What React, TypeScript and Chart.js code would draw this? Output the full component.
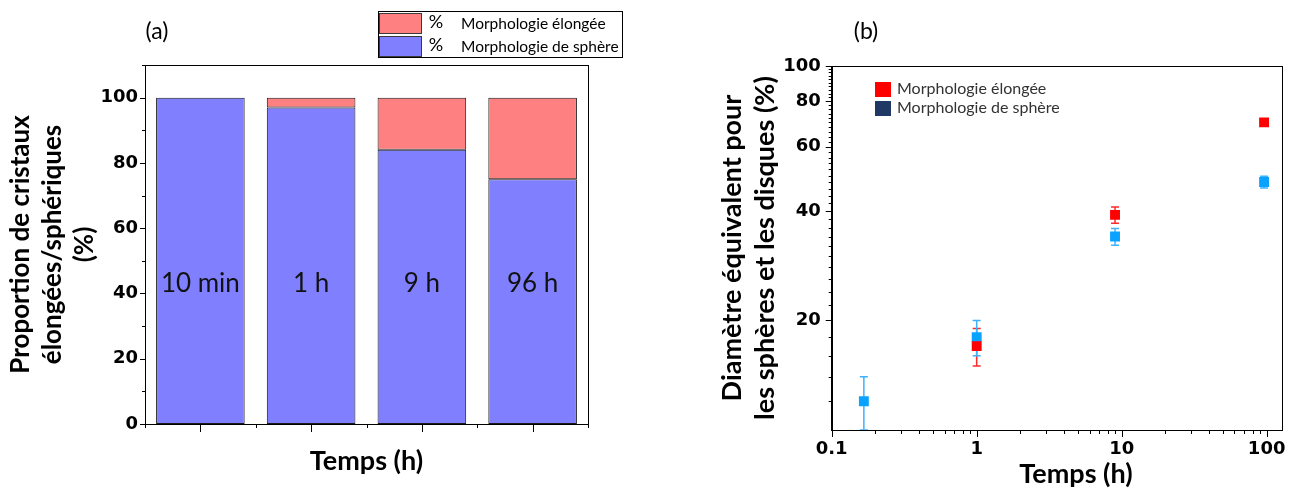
import React, { useEffect, useRef } from 'react';
import { Chart, registerables } from 'chart.js';

Chart.register(...registerables);

// ---------- Data (a) ----------
const categories = ['10 min', '1 h', '9 h', '96 h'];
const spherePct = [100, 97, 84, 75];
const elongPct = [0, 3, 16, 25];
const pctTickLabels = [0, 20, 40, 60, 80, 100];

// ---------- Data (b) ----------
const sphereTimes = [10 / 60, 1, 9, 96];
const sphereDiam = [12, 18, 34, 48];
const sphereErr = [2, 2, 1.8, 1.8];
const elongTimes = [1, 9, 96];
const elongDiam = [17, 39, 70];
const elongErr = [2, 2, 1];
const timeTickLabels = [0.1, 1, 10, 100];
const diamTickLabels = [20, 40, 60, 80, 100];

const TICK_FONT = { family: '"DejaVu Sans", "Liberation Sans", sans-serif', size: 18, weight: 'bold' as const };
const TITLE_FAMILY = 'Lato, "Open Sans", sans-serif';

const LEFT_W = 650;
const RIGHT_W = 646;
const H = 491;

function drawTick(ctx: CanvasRenderingContext2D, x1: number, y1: number, x2: number, y2: number) {
  ctx.beginPath();
  ctx.moveTo(x1, y1);
  ctx.lineTo(x2, y2);
  ctx.stroke();
}

const leftDecor = {
  id: 'leftDecor',
  afterDraw(chart: any) {
    const { ctx, chartArea: a, scales } = chart;
    const xs = scales.x;
    const ys = scales.y;
    ctx.save();
    ctx.strokeStyle = '#000';
    ctx.lineWidth = 1;
    // frame
    ctx.strokeRect(Math.round(a.left) + 0.5, Math.round(a.top) + 0.5, Math.round(a.right - a.left), Math.round(a.bottom - a.top));
    // y ticks
    for (let v = 0; v <= 110; v += 10) {
      const py = Math.round(ys.getPixelForValue(v)) + 0.5;
      const len = v % 20 === 0 ? 5 : 3;
      drawTick(ctx, a.left - len, py, a.left, py);
    }
    // x ticks
    const n = categories.length;
    const cw = (a.right - a.left) / n;
    for (let i = 0; i < n; i++) {
      const cx = Math.round(xs.getPixelForValue(i)) + 0.5;
      drawTick(ctx, cx, a.bottom, cx, a.bottom + 8);
    }
    for (let i = 0; i <= n; i++) {
      const bx = Math.round(a.left + cw * i) + 0.5;
      drawTick(ctx, bx, a.bottom, bx, a.bottom + 4);
    }
    // labels inside bars
    ctx.fillStyle = '#111';
    ctx.font = `26px ${TITLE_FAMILY}`;
    ctx.textAlign = 'center';
    ctx.textBaseline = 'middle';
    const ly = ys.getPixelForValue(43);
    categories.forEach((c, i) => {
      ctx.fillText(c, xs.getPixelForValue(i), ly);
    });
    // panel letter
    ctx.font = `23px ${TITLE_FAMILY}`;
    ctx.fillStyle = '#000';
    ctx.fillText('(a)', 157, 32);
    // legend
    ctx.strokeStyle = '#000';
    ctx.strokeRect(378.5, 11.5, 244, 46);
    const ds = chart.data.datasets;
    const rows = [ds[1], ds[0]];
    rows.forEach((d: any, i: number) => {
      const top = 13 + i * 23;
      ctx.fillStyle = d.backgroundColor;
      ctx.fillRect(379, top, 42, 20);
      ctx.strokeStyle = '#3a3a3a';
      ctx.strokeRect(379.5, top + 0.5, 42, 20);
      ctx.fillStyle = '#000';
      ctx.textAlign = 'center';
      ctx.font = `18px ${TITLE_FAMILY}`;
      ctx.fillText('%', 436, top + 9);
      ctx.textAlign = 'left';
      ctx.font = `15.5px ${TITLE_FAMILY}`;
      ctx.fillText(d.label.replace('% ', ''), 461, top + 11);
    });
    ctx.restore();
  },
};

const errorMap: Record<string, number[]> = {
  'Morphologie élongée': elongErr,
  'Morphologie de sphère': sphereErr,
};
const errorColor: Record<string, string> = {
  'Morphologie élongée': '#FF2a2a',
  'Morphologie de sphère': '#3FB2FF',
};
const legendColor: Record<string, string> = {
  'Morphologie élongée': '#FF0000',
  'Morphologie de sphère': '#1F3864',
};

const rightErrors = {
  id: 'rightErrors',
  beforeDatasetsDraw(chart: any) {
    const { ctx, chartArea: a, scales } = chart;
    ctx.save();
    ctx.beginPath();
    ctx.rect(a.left, a.top, a.right - a.left, a.bottom - a.top);
    ctx.clip();
    ctx.lineWidth = 1.5;
    chart.data.datasets.forEach((ds: any) => {
      const errs = errorMap[ds.label];
      ctx.strokeStyle = errorColor[ds.label];
      ds.data.forEach((p: any, i: number) => {
        const px = scales.x.getPixelForValue(p.x);
        const yt = scales.y.getPixelForValue(p.y + errs[i]);
        const yb = scales.y.getPixelForValue(Math.max(p.y - errs[i], 1));
        drawTick(ctx, px, yt, px, yb);
        drawTick(ctx, px - 4, yt, px + 4, yt);
        drawTick(ctx, px - 4, yb, px + 4, yb);
      });
    });
    ctx.restore();
  },
};

const rightDecor = {
  id: 'rightDecor',
  afterDraw(chart: any) {
    const { ctx, chartArea: a, scales } = chart;
    ctx.save();
    ctx.strokeStyle = '#000';
    ctx.lineWidth = 1;
    ctx.strokeRect(Math.round(a.left) + 0.5, Math.round(a.top) + 0.5, Math.round(a.right - a.left), Math.round(a.bottom - a.top));
    // x ticks (log)
    for (let d = 0.1; d < 150; d *= 10) {
      for (let m = 1; m <= 9; m++) {
        const v = d * m;
        if (v > scales.x.max) break;
        const px = Math.round(scales.x.getPixelForValue(v)) + 0.5;
        drawTick(ctx, px, a.bottom, px, a.bottom + (m === 1 ? 7 : 4));
      }
    }
    // y ticks (log)
    for (let v = 12; v <= 100; v += 2) {
      const py = Math.round(scales.y.getPixelForValue(v)) + 0.5;
      const major = v % 20 === 0;
      drawTick(ctx, a.left - (major ? 6 : 3), py, a.left, py);
    }
    // x title (offset as in reference)
    ctx.fillStyle = '#000';
    ctx.textAlign = 'center';
    ctx.textBaseline = 'middle';
    ctx.font = `bold 27px ${TITLE_FAMILY}`;
    ctx.fillText('Temps (h)', 426, 474);
    // panel letter
    ctx.font = `23px ${TITLE_FAMILY}`;
    ctx.fillText('(b)', 216, 32);
    // legend
    ctx.textAlign = 'left';
    ctx.font = `16px ${TITLE_FAMILY}`;
    chart.data.datasets.forEach((ds: any, i: number) => {
      const top = 82 + i * 19;
      ctx.fillStyle = legendColor[ds.label];
      ctx.fillRect(225, top, 16, 15);
      ctx.fillStyle = '#333';
      ctx.fillText(ds.label, 247, top + 7);
    });
    ctx.restore();
  },
};

function LeftChart() {
  const ref = useRef<HTMLCanvasElement>(null);
  useEffect(() => {
    const chart = new Chart(ref.current!, {
      type: 'bar',
      data: {
        labels: categories,
        datasets: [
          {
            label: '% Morphologie de sphère',
            data: spherePct,
            backgroundColor: '#8080FF',
            borderColor: '#1a1a1a',
            borderWidth: 1,
            borderSkipped: false,
            categoryPercentage: 1,
            barPercentage: 0.8,
          },
          {
            label: '% Morphologie élongée',
            data: elongPct,
            backgroundColor: '#FF8080',
            borderColor: '#1a1a1a',
            borderWidth: 1,
            borderSkipped: false,
            categoryPercentage: 1,
            barPercentage: 0.8,
          },
        ],
      },
      options: {
        animation: false,
        responsive: false,
        devicePixelRatio: 1,
        layout: { padding: { top: 65, right: 62, left: 0, bottom: 0 } },
        plugins: { legend: { display: false }, tooltip: { enabled: false } },
        scales: {
          x: {
            stacked: true,
            grid: { display: false, drawTicks: false },
            border: { display: true, color: '#000', width: 1 },
            ticks: { display: false },
            title: {
              display: true,
              text: 'Temps (h)',
              color: '#000',
              font: { family: TITLE_FAMILY, size: 27, weight: 'bold', lineHeight: 1.2 },
              padding: { top: 0, bottom: 14 },
            },
            afterFit: (s: any) => {
              s.height = 67;
            },
          },
          y: {
            stacked: true,
            min: 0,
            max: 110,
            afterBuildTicks: (s: any) => {
              s.ticks = pctTickLabels.map((v) => ({ value: v }));
            },
            ticks: { font: TICK_FONT, color: '#000', padding: 7, callback: (v: any) => String(v) },
            grid: { display: false, drawTicks: false },
            border: { display: true, color: '#000', width: 1 },
            title: {
              display: true,
              text: ['Proportion de cristaux', 'élongées/sphériques', '(%)'],
              color: '#000',
              font: { family: TITLE_FAMILY, size: 26, weight: 'bold', lineHeight: 1.23 },
              padding: { top: 5, bottom: 0 },
            },
            afterFit: (s: any) => {
              s.width = 145;
            },
          },
        },
      } as any,
      plugins: [leftDecor],
    });
    return () => chart.destroy();
  }, []);
  return <canvas ref={ref} width={LEFT_W} height={H} style={{ position: 'absolute', left: 0, top: 0 }} />;
}

function RightChart() {
  const ref = useRef<HTMLCanvasElement>(null);
  useEffect(() => {
    const chart = new Chart(ref.current!, {
      type: 'scatter',
      data: {
        datasets: [
          {
            label: 'Morphologie élongée',
            data: elongTimes.map((t, i) => ({ x: t, y: elongDiam[i] })),
            pointStyle: 'rect',
            pointRadius: 7,
            backgroundColor: '#FF0000',
            borderColor: '#FF0000',
            borderWidth: 0,
          },
          {
            label: 'Morphologie de sphère',
            data: sphereTimes.map((t, i) => ({ x: t, y: sphereDiam[i] })),
            pointStyle: 'rect',
            pointRadius: 7,
            backgroundColor: '#0AA2FF',
            borderColor: '#0AA2FF',
            borderWidth: 0,
          },
        ],
      },
      options: {
        animation: false,
        responsive: false,
        devicePixelRatio: 1,
        layout: { padding: { top: 66, right: 14.3, left: 0, bottom: 0 } },
        plugins: { legend: { display: false }, tooltip: { enabled: false } },
        scales: {
          x: {
            type: 'logarithmic',
            min: 0.1,
            max: 127,
            afterBuildTicks: (s: any) => {
              s.ticks = timeTickLabels.map((v) => ({ value: v }));
            },
            ticks: { font: TICK_FONT, color: '#000', padding: 9, autoSkip: false, maxRotation: 0, callback: (v: any) => String(v) },
            grid: { display: false, drawTicks: false },
            border: { display: true, color: '#000', width: 1 },
            afterFit: (s: any) => {
              s.height = 61;
            },
          },
          y: {
            type: 'logarithmic',
            min: 10,
            max: 100,
            afterBuildTicks: (s: any) => {
              s.ticks = diamTickLabels.map((v) => ({ value: v }));
            },
            ticks: { font: TICK_FONT, color: '#000', padding: 11, autoSkip: false, callback: (v: any) => String(v) },
            grid: { display: false, drawTicks: false },
            border: { display: true, color: '#000', width: 1 },
            title: {
              display: true,
              text: ['Diamètre équivalent pour', 'les sphères et les disques (%)'],
              color: '#000',
              font: { family: TITLE_FAMILY, size: 27, weight: 'bold', lineHeight: 1.22 },
              padding: { top: 66, bottom: 0 },
            },
            afterFit: (s: any) => {
              s.width = 181.7;
            },
          },
        },
      } as any,
      plugins: [rightErrors, rightDecor],
    });
    return () => chart.destroy();
  }, []);
  return <canvas ref={ref} width={RIGHT_W} height={H} style={{ position: 'absolute', left: LEFT_W, top: 0 }} />;
}

export default function App() {
  useEffect(() => {
    document.body.style.margin = '0';
  }, []);
  return (
    <div style={{ position: 'relative', width: 1296, height: H, overflow: 'hidden', background: '#fff' }}>
      <LeftChart />
      <RightChart />
    </div>
  );
}
